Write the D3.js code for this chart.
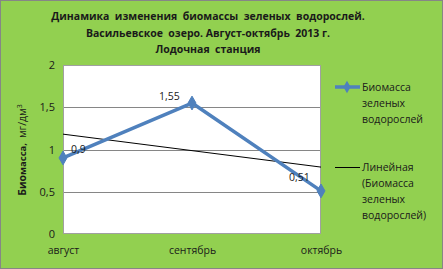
<!DOCTYPE html>
<html>
<head>
<meta charset="utf-8">
<script src="https://cdn.jsdelivr.net/npm/d3@7"></script>
<style>
  body { margin: 0; background: #fff; }
  text { font-family: "Open Sans", "Liberation Sans", sans-serif; white-space: pre; }
</style>
</head>
<body>
<div id="chart"></div>
<script>
// data
const months = ['август', 'сентябрь', 'октябрь'];
const biomass = [0.9, 1.55, 0.51];
const valueLabels = ['0,9', '1,55', '0,51'];
const yTicks = [0, 0.5, 1, 1.5, 2];
const titleLines = [
	'Динамика  изменения  биомассы  зеленых  водорослей.',
	'Васильевское  озеро. Август-октябрь  2013 г.',
	'Лодочная  станция'
];
const seriesName = ['Биомасса', 'зеленых', 'водорослей'];
const trendName = ['Линейная', '(Биомасса', 'зеленых', 'водорослей)'];

const width = 443, height = 269;
const plot = { left: 63, right: 321, top: 65, bottom: 234 };

const svg = d3.select('#chart').append('svg')
	.attr('width', width)
	.attr('height', height);

// background
svg.append('rect')
	.attr('x', 0.5).attr('y', 0.5)
	.attr('width', width - 1).attr('height', height - 1)
	.attr('fill', '#92d050')
	.attr('stroke', '#868686');

// title
svg.append('g')
	.selectAll('text')
	.data(titleLines)
	.join('text')
	.attr('x', 208)
	.attr('y', (d, i) => 20 + i * 16.5)
	.attr('text-anchor', 'middle')
	.attr('font-size', 10.5)
	.attr('font-weight', 'bold')
	.attr('fill', '#1a1a1a')
	.text((d) => d);

const x = d3.scalePoint().domain(months).range([plot.left, plot.right]);
const y = d3.scaleLinear().domain([0, 2]).range([plot.bottom, plot.top]);

// plot area
svg.append('rect')
	.attr('x', plot.left).attr('y', plot.top)
	.attr('width', plot.right - plot.left)
	.attr('height', plot.bottom - plot.top)
	.attr('fill', '#fff');

// gridlines
svg.append('g')
	.selectAll('line')
	.data(yTicks.filter((d) => d > 0 && d < 2))
	.join('line')
	.attr('x1', plot.left).attr('x2', plot.right)
	.attr('y1', (d) => Math.round(y(d)) + 0.5)
	.attr('y2', (d) => Math.round(y(d)) + 0.5)
	.attr('stroke', '#868686');

svg.append('rect')
	.attr('x', plot.left + 0.5).attr('y', plot.top + 0.5)
	.attr('width', plot.right - plot.left - 1)
	.attr('height', plot.bottom - plot.top - 1)
	.attr('fill', 'none')
	.attr('stroke', '#a0a0a0');

// y axis
const yAxis = svg.append('g')
	.attr('transform', `translate(${plot.left},0)`)
	.call(d3.axisLeft(y).tickValues(yTicks).tickSize(0).tickPadding(8)
		.tickFormat((d) => String(d).replace('.', ',')));
yAxis.select('.domain').remove();
yAxis.selectAll('text')
	.attr('font-size', 11)
	.attr('fill', '#1a1a1a')
	.style('font-family', '"Open Sans", sans-serif');

// x axis
const xAxis = svg.append('g')
	.attr('transform', `translate(0,${plot.bottom})`)
	.call(d3.axisBottom(x).tickSize(0).tickPadding(13));
xAxis.select('.domain').remove();
xAxis.selectAll('text')
	.attr('font-size', 10.5)
	.attr('fill', '#1a1a1a')
	.style('font-family', '"Open Sans", sans-serif');

// y title
const yTitle = svg.append('text')
	.attr('transform', `translate(26,150) rotate(-90)`)
	.attr('text-anchor', 'middle')
	.attr('font-size', 10.5)
	.attr('fill', '#1a1a1a');
yTitle.append('tspan').attr('font-weight', 'bold').text('Био');
yTitle.append('tspan').attr('font-size', 9.5).attr('font-weight', 'bold').text('масса,  ');
yTitle.append('tspan').text('мг/дм');
yTitle.append('tspan').attr('font-size', 7).attr('dy', -4).text('3');

// linear trend (least squares over the series)
const idx = biomass.map((d, i) => i);
const mx = d3.mean(idx), my = d3.mean(biomass);
const slope = d3.sum(idx, (i) => (i - mx) * (biomass[i] - my)) / d3.sum(idx, (i) => (i - mx) ** 2);
const trend = idx.map((i) => my + slope * (i - mx));

svg.append('path')
	.datum(trend)
	.attr('fill', 'none')
	.attr('stroke', '#000')
	.attr('stroke-width', 1)
	.attr('d', d3.line().x((d, i) => x(months[i])).y((d) => y(d)));

// series
const blue = '#4f81bd';
svg.append('path')
	.datum(biomass)
	.attr('fill', 'none')
	.attr('stroke', blue)
	.attr('stroke-width', 3.5)
	.attr('stroke-linejoin', 'round')
	.attr('d', d3.line().x((d, i) => x(months[i])).y((d) => y(d)));

svg.append('g')
	.selectAll('path')
	.data(biomass)
	.join('path')
	.attr('transform', (d, i) => `translate(${x(months[i])},${y(d)})`)
	.attr('d', d3.symbol(d3.symbolDiamond, 55))
	.attr('fill', blue)
	.attr('stroke', blue);

// data labels
const labelOffsets = [[8, -5], [-33, -3], [-32, -10]];
svg.append('g')
	.selectAll('text')
	.data(biomass)
	.join('text')
	.attr('x', (d, i) => x(months[i]) + labelOffsets[i][0])
	.attr('y', (d, i) => y(d) + labelOffsets[i][1])
	.attr('font-size', 10.5)
	.attr('fill', '#1a1a1a')
	.text((d, i) => valueLabels[i]);

// legend
const legend = svg.append('g');
legend.append('line')
	.attr('x1', 335).attr('x2', 360).attr('y1', 87).attr('y2', 87)
	.attr('stroke', blue).attr('stroke-width', 3.5);
legend.append('path')
	.attr('transform', 'translate(347,87)')
	.attr('d', d3.symbol(d3.symbolDiamond, 45))
	.attr('fill', blue);
legend.selectAll('text.s')
	.data(seriesName)
	.join('text')
	.attr('class', 's')
	.attr('x', 362)
	.attr('y', (d, i) => 91 + i * 16)
	.attr('font-size', 10.5)
	.attr('fill', '#1a1a1a')
	.text((d) => d);

legend.append('line')
	.attr('x1', 335).attr('x2', 360).attr('y1', 167.5).attr('y2', 167.5)
	.attr('stroke', '#000').attr('stroke-width', 1);
legend.selectAll('text.t')
	.data(trendName)
	.join('text')
	.attr('class', 't')
	.attr('x', 362)
	.attr('y', (d, i) => 171 + i * 16)
	.attr('font-size', 10.5)
	.attr('fill', '#1a1a1a')
	.text((d) => d);
</script>
</body>
</html>
